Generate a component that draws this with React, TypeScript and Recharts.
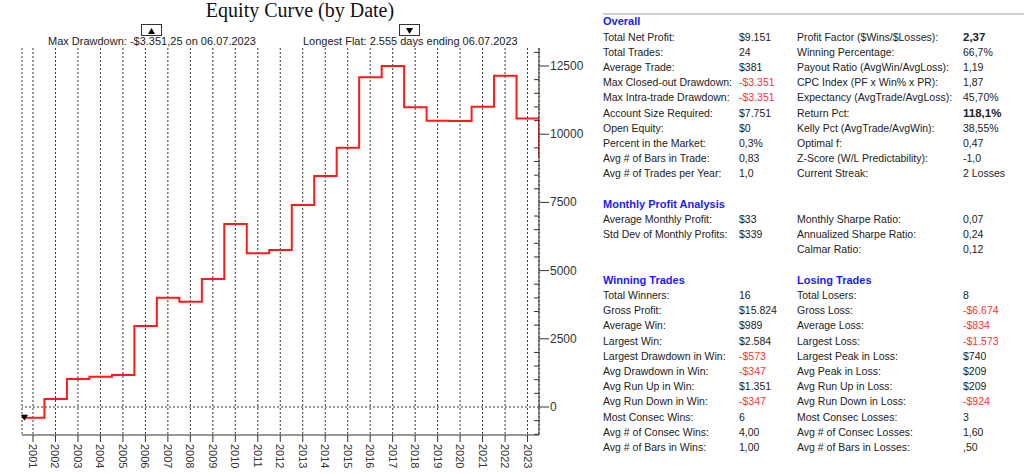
import {
  LineChart,
  Line,
  XAxis,
  YAxis,
  CartesianGrid,
  ReferenceLine,
  ReferenceDot,
} from "recharts";

// trade exit dates and closed equity after each trade
const exitDates = [
  "06.07.2000", "06.07.2001", "06.07.2002", "06.07.2003", "06.07.2004",
  "06.07.2005", "06.07.2006", "06.07.2007", "06.07.2008", "06.07.2009",
  "06.07.2010", "06.07.2011", "06.07.2012", "06.07.2013", "06.07.2014",
  "06.07.2015", "06.07.2016", "06.07.2017", "06.07.2018", "06.07.2019",
  "06.07.2020", "06.07.2021", "06.07.2022", "06.07.2023",
];
const equity = [
  -393, 293, 1026, 1111, 1173, 2969, 4007, 3860, 4692, 6708, 5634, 5755,
  7405, 8468, 9505, 12089, 12502, 10986, 10490, 10482, 11008, 12145, 10572,
  9151,
];

const yearTicks = [
  2001, 2002, 2003, 2004, 2005, 2006, 2007, 2008, 2009, 2010, 2011, 2012,
  2013, 2014, 2015, 2016, 2017, 2018, 2019, 2020, 2021, 2022, 2023,
];
const equityTicks = [
  -1000, -500, 0, 500, 1000, 1500, 2000, 2500, 3000, 3500, 4000, 4500, 5000,
  5500, 6000, 6500, 7000, 7500, 8000, 8500, 9000, 9500, 10000, 10500, 11000,
  11500, 12000, 12500, 13000,
];
const labelledTicks = [0, 2500, 5000, 7500, 10000, 12500];

const chartTitle = "Equity Curve (by Date)";
const drawdownNote = "Max Drawdown: -$3.351,25 on 06.07.2023";
const flatNote = "Longest Flat: 2.555 days ending 06.07.2023";

// stats panel
const overallLeft = [
  ["Total Net Profit:", "$9.151"],
  ["Total Trades:", "24"],
  ["Average Trade:", "$381"],
  ["Max Closed-out Drawdown:", "-$3.351"],
  ["Max Intra-trade Drawdown:", "-$3.351"],
  ["Account Size Required:", "$7.751"],
  ["Open Equity:", "$0"],
  ["Percent in the Market:", "0,3%"],
  ["Avg # of Bars in Trade:", "0,83"],
  ["Avg # of Trades per Year:", "1,0"],
];
const overallRight = [
  ["Profit Factor ($Wins/$Losses):", "2,37"],
  ["Winning Percentage:", "66,7%"],
  ["Payout Ratio (AvgWin/AvgLoss):", "1,19"],
  ["CPC Index (PF x Win% x PR):", "1,87"],
  ["Expectancy (AvgTrade/AvgLoss):", "45,70%"],
  ["Return Pct:", "118,1%"],
  ["Kelly Pct (AvgTrade/AvgWin):", "38,55%"],
  ["Optimal f:", "0,47"],
  ["Z-Score (W/L Predictability):", "-1,0"],
  ["Current Streak:", "2 Losses"],
];
const monthlyLeft = [
  ["Average Monthly Profit:", "$33"],
  ["Std Dev of Monthly Profits:", "$339"],
];
const monthlyRight = [
  ["Monthly Sharpe Ratio:", "0,07"],
  ["Annualized Sharpe Ratio:", "0,24"],
  ["Calmar Ratio:", "0,12"],
];
const winningRows = [
  ["Total Winners:", "16"],
  ["Gross Profit:", "$15.824"],
  ["Average Win:", "$989"],
  ["Largest Win:", "$2.584"],
  ["Largest Drawdown in Win:", "-$573"],
  ["Avg Drawdown in Win:", "-$347"],
  ["Avg Run Up in Win:", "$1.351"],
  ["Avg Run Down in Win:", "-$347"],
  ["Most Consec Wins:", "6"],
  ["Avg # of Consec Wins:", "4,00"],
  ["Avg # of Bars in Wins:", "1,00"],
];
const losingRows = [
  ["Total Losers:", "8"],
  ["Gross Loss:", "-$6.674"],
  ["Average Loss:", "-$834"],
  ["Largest Loss:", "-$1.573"],
  ["Largest Peak in Loss:", "$740"],
  ["Avg Peak in Loss:", "$209"],
  ["Avg Run Up in Loss:", "$209"],
  ["Avg Run Down in Loss:", "-$924"],
  ["Most Consec Losses:", "3"],
  ["Avg # of Consec Losses:", "1,60"],
  ["Avg # of Bars in Losses:", ",50"],
];
const boldValues = ["2,37", "118,1%"];

function toYear(d: string) {
  const [dd, mm, yyyy] = d.split(".").map(Number);
  const start = Date.UTC(yyyy, 0, 1);
  const end = Date.UTC(yyyy + 1, 0, 1);
  return yyyy + (Date.UTC(yyyy, mm - 1, dd) - start) / (end - start);
}

const data = exitDates.map((d, i) => ({ t: toYear(d), equity: equity[i] }));
const xMin = data[0].t;
const xMax = data[data.length - 1].t;

const YearTick = ({ x, y, payload }: any) => (
  <text
    x={x}
    y={y}
    transform={`rotate(90 ${x} ${y})`}
    textAnchor="start"
    dominantBaseline="central"
    fontSize={11}
    fontFamily="Arial, Liberation Sans, sans-serif"
    fill="#333"
  >
    {payload.value}
  </text>
);

const EquityTick = ({ x, y, payload }: any) => {
  const major = labelledTicks.includes(payload.value);
  return (
    <g>
      {major ? (
        <line x1={x} x2={x + 10} y1={y} y2={y} stroke="#333" />
      ) : (
        <line x1={x - 5} x2={x} y1={y} y2={y} stroke="#333" />
      )}
      {major && (
        <text
          x={x + 11}
          y={y}
          dominantBaseline="central"
          fontSize={12}
          fontFamily="Arial, Liberation Sans, sans-serif"
          fill="#333"
        >
          {payload.value}
        </text>
      )}
    </g>
  );
};

const StartMarker = ({ cx, cy }: any) => (
  <polygon
    points={`${cx - 1},${cy - 3} ${cx + 6},${cy - 3} ${cx + 2.5},${cy + 3}`}
    fill="#000"
  />
);

const Marker = ({ left, up }: { left: number; up: boolean }) => (
  <div
    style={{
      position: "absolute",
      left,
      top: 24,
      width: 19,
      height: 10,
      border: "1px solid #333",
      background: "#fff",
    }}
  >
    <svg width={19} height={10} style={{ display: "block" }}>
      {up ? (
        <polygon points="6,9 13,9 9.5,3" fill="#000" />
      ) : (
        <polygon points="6,3 13,3 9.5,9" fill="#000" />
      )}
    </svg>
  </div>
);

const ROW = 15.2;
const COLS = [0, 136, 194, 360];
const font = "Arial, Liberation Sans, sans-serif";

function Cell({ text, left, row, style }: any) {
  return (
    <div
      style={{
        position: "absolute",
        left,
        top: 14.4 + ROW * row,
        height: ROW,
        lineHeight: `${ROW}px`,
        whiteSpace: "nowrap",
        ...style,
      }}
    >
      {text}
    </div>
  );
}

function Rows({ rows, start, col }: { rows: string[][]; start: number; col: number }) {
  return (
    <>
      {rows.map(([label, value], i) => (
        <div key={label}>
          <Cell text={label} left={COLS[col * 2]} row={start + i} />
          <Cell
            text={value}
            left={COLS[col * 2 + 1]}
            row={start + i}
            style={{
              color: value.startsWith("-$") ? "#ff3333" : "#222",
              fontWeight: boldValues.includes(value) ? "bold" : "normal",
              fontSize: boldValues.includes(value) ? 11.5 : undefined,
            }}
          />
        </div>
      ))}
    </>
  );
}

const Header = ({ text, row, col }: any) => (
  <Cell
    text={text}
    left={COLS[col * 2]}
    row={row}
    style={{ color: "#1a1aff", fontWeight: "bold", fontSize: 11 }}
  />
);

export default function App() {
  return (
    <div
      style={{
        position: "absolute",
        left: 0,
        top: 0,
        width: 1024,
        height: 473,
        background: "#fff",
        overflow: "hidden",
        fontFamily: font,
      }}
    >
      <LineChart
        width={600}
        height={473}
        data={data}
        margin={{ top: 48, right: 11, bottom: 0, left: 22 }}
      >
        <CartesianGrid
          horizontal={false}
          strokeDasharray="2 2"
          stroke="#333"
        />
        <XAxis
          dataKey="t"
          type="number"
          domain={[xMin, xMax]}
          ticks={yearTicks}
          interval={0}
          allowDataOverflow
          tickSize={7}
          tickMargin={2}
          height={38}
          stroke="#333"
          tick={YearTick}
        />
        <XAxis
          xAxisId="frameTop"
          orientation="top"
          height={0}
          tick={false}
          tickLine={false}
          stroke="#999"
        />
        <YAxis
          orientation="right"
          domain={[-1026, 13160]}
          ticks={equityTicks}
          interval={0}
          allowDataOverflow
          tickLine={false}
          tickSize={0}
          tickMargin={0}
          width={50}
          stroke="#333"
          tick={EquityTick}
        />
        <YAxis
          yAxisId="frameLeft"
          orientation="left"
          width={0}
          tick={false}
          tickLine={false}
          stroke="#555"
        />
        <ReferenceLine y={0} stroke="#333" strokeDasharray="2 2" />
        <Line
          type="stepAfter"
          dataKey="equity"
          stroke="#ff1a1a"
          strokeWidth={2}
          dot={false}
          isAnimationActive={false}
        />
        <ReferenceDot x={xMin} y={equity[0]} shape={StartMarker} />
      </LineChart>

      <div
        style={{
          position: "absolute",
          left: 0,
          top: 0,
          width: 600,
          textAlign: "center",
          fontFamily: "Liberation Serif, Times New Roman, serif",
          fontSize: 20,
          lineHeight: "20px",
          color: "#111",
        }}
      >
        {chartTitle}
      </div>
      <Marker left={141} up />
      <Marker left={399} up={false} />
      <div
        style={{
          position: "absolute",
          left: 48,
          top: 36.4,
          fontSize: 11,
          lineHeight: "11px",
          color: "#222",
          whiteSpace: "nowrap",
        }}
      >
        {drawdownNote}
      </div>
      <div
        style={{
          position: "absolute",
          left: 303,
          top: 36.4,
          fontSize: 11,
          lineHeight: "11px",
          color: "#222",
          whiteSpace: "nowrap",
        }}
      >
        {flatNote}
      </div>

      <div
        style={{
          position: "absolute",
          left: 603,
          top: 13,
          width: 421,
          height: 2,
          background: "#cfcfcf",
        }}
      />
      <div
        style={{
          position: "absolute",
          left: 603,
          top: 0,
          width: 421,
          height: 473,
          fontSize: 10.5,
          color: "#222",
        }}
      >
        <Header text="Overall" row={0} col={0} />
        <Rows rows={overallLeft} start={1} col={0} />
        <Rows rows={overallRight} start={1} col={1} />
        <Header text="Monthly Profit Analysis" row={12} col={0} />
        <Rows rows={monthlyLeft} start={13} col={0} />
        <Rows rows={monthlyRight} start={13} col={1} />
        <Header text="Winning Trades" row={17} col={0} />
        <Header text="Losing Trades" row={17} col={1} />
        <Rows rows={winningRows} start={18} col={0} />
        <Rows rows={losingRows} start={18} col={1} />
      </div>
    </div>
  );
}
